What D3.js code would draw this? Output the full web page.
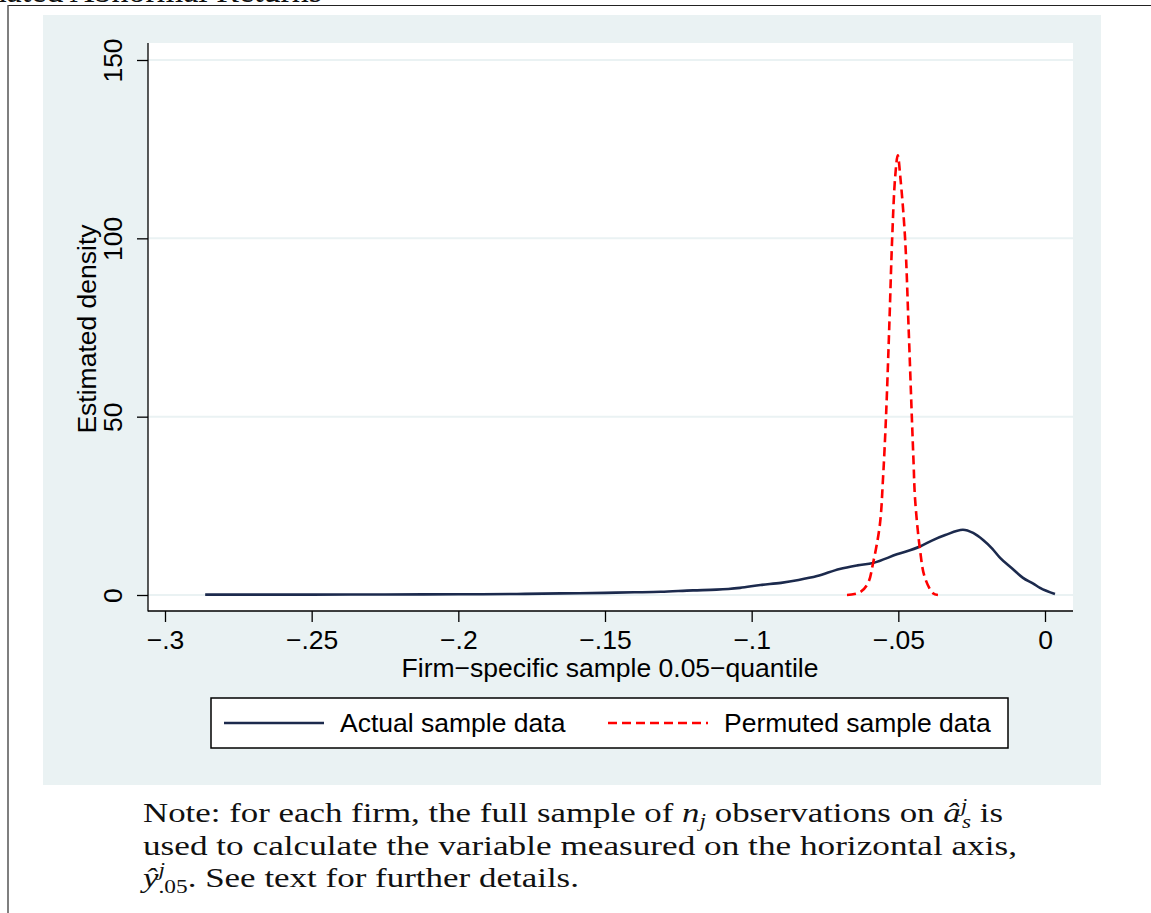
<!DOCTYPE html>
<html>
<head>
<meta charset="utf-8">
<script src="https://cdn.jsdelivr.net/npm/d3@7"></script>
<style>
  body { margin: 0; background: #fff; }
  svg { display: block; }
</style>
</head>
<body>
<div id="chart"></div>
<script>
// density estimates
var actualX = [-0.2863, -0.25, -0.225, -0.2, -0.18, -0.165, -0.15, -0.14, -0.131, -0.12, -0.112, -0.108, -0.104, -0.097,
  -0.09, -0.084, -0.0777, -0.07, -0.064, -0.0586, -0.0505, -0.0426, -0.0382, -0.034, -0.028, -0.0245,
  -0.0211, -0.018, -0.0153, -0.011, -0.0075, -0.004, -0.0017, 0.0034]
var actualY = [0.1, 0.1, 0.15, 0.2, 0.3, 0.45, 0.6, 0.75, 0.9, 1.3, 1.5, 1.7, 2.0, 2.8,
  3.4, 4.2, 5.3, 7.3, 8.3, 9.0, 11.4, 13.6, 15.4, 16.8, 18.3, 17.4,
  15.4, 13.0, 10.4, 7.3, 4.8, 3.2, 2.0, 0.3]

var permX = [-0.0675, -0.063, -0.0603, -0.0586, -0.0563, -0.0552, -0.0542, -0.0531, -0.0521, -0.0511, -0.0502,
  -0.0493, -0.0477, -0.0465, -0.0454, -0.0448, -0.0443, -0.0426, -0.041, -0.0382, -0.0365]
var permY = [0, 0.8, 3.4, 9, 19.7, 33, 50, 75, 100, 117, 123.3,
  117, 100, 75, 50, 37, 27, 12.6, 5, 0.5, 0]

var xTicks = [-0.3, -0.25, -0.2, -0.15, -0.1, -0.05, 0]
var xTickLabels = ["\u2212.3", "\u2212.25", "\u2212.2", "\u2212.15", "\u2212.1", "\u2212.05", "0"]
var yTicks = [0, 50, 100, 150]
var yTickLabels = ["0", "50", "100", "150"]
var seriesNames = ["Actual sample data", "Permuted sample data"]

var W = 1151, H = 913
var plot = {left: 148, right: 1073, top: 43, bottom: 611}
var navy = "#1c2a4d", red = "#ff0000", bgc = "#eaf2f3"
var sans = "'Liberation Sans', Arial, Helvetica, sans-serif"
var serif = "'Liberation Serif', 'Times New Roman', serif"
var fs = "26.5px"

var svg = d3.select("#chart").append("svg")
  .attr("width", W).attr("height", H)

// page frame and clipped heading from the document above
svg.append("text").attr("x", 322).attr("y", 2).attr("text-anchor", "end")
  .style("font-family", serif).style("font-size", "34px").style("fill", "#111")
  .text("Estimated Abnormal Returns")
svg.append("line").attr("x1", 8).attr("x2", W).attr("y1", 5.5).attr("y2", 5.5)
  .style("stroke", "#222").style("stroke-width", 1.2)
svg.append("line").attr("x1", 8).attr("x2", 8).attr("y1", 5).attr("y2", H)
  .style("stroke", "#555").style("stroke-width", 1.5)

// graph region
svg.append("rect").attr("x", 43).attr("y", 15).attr("width", 1058).attr("height", 770).style("fill", bgc)
svg.append("rect").attr("x", plot.left).attr("y", plot.top)
  .attr("width", plot.right - plot.left).attr("height", plot.bottom - plot.top).style("fill", "#fff")

var x = d3.scaleLinear().domain([-0.3, 0]).range([165, 1045])
var y = d3.scaleLinear().domain([0, 150]).range([595, 60])

// grid
svg.append("g").selectAll("line").data(yTicks).enter().append("line")
  .attr("x1", plot.left).attr("x2", plot.right)
  .attr("y1", function(d) { return y(d) }).attr("y2", function(d) { return y(d) })
  .style("stroke", bgc).style("stroke-width", 2)

// y axis
var yAxis = svg.append("g").attr("transform", "translate(" + plot.left + ",0)")
  .call(d3.axisLeft(y).tickValues(yTicks).tickSize(11).tickSizeOuter(0)
    .tickFormat(function(d, i) { return yTickLabels[i] }))
yAxis.select(".domain").remove()
yAxis.selectAll("line").style("stroke", "#000").style("stroke-width", 1.3)
yAxis.selectAll("text").attr("transform", "rotate(-90)").attr("x", 0).attr("y", -26).attr("dy", 0)
  .attr("text-anchor", "middle").style("font-family", sans).style("font-size", fs).style("fill", "#000")

// x axis
var xAxis = svg.append("g").attr("transform", "translate(0," + plot.bottom + ")")
  .call(d3.axisBottom(x).tickValues(xTicks).tickSize(11).tickSizeOuter(0)
    .tickFormat(function(d, i) { return xTickLabels[i] }))
xAxis.select(".domain").remove()
xAxis.selectAll("line").style("stroke", "#000").style("stroke-width", 1.3)
xAxis.selectAll("text").attr("y", 38).attr("dy", 0)
  .style("font-family", sans).style("font-size", fs).style("fill", "#000")

svg.append("line").attr("x1", plot.left).attr("x2", plot.left).attr("y1", plot.top).attr("y2", plot.bottom + 0.6)
  .style("stroke", "#000").style("stroke-width", 1.3)
svg.append("line").attr("x1", plot.left).attr("x2", plot.right).attr("y1", plot.bottom).attr("y2", plot.bottom)
  .style("stroke", "#000").style("stroke-width", 1.3)

// axis titles
svg.append("text").attr("x", 610).attr("y", 677).attr("text-anchor", "middle")
  .style("font-family", sans).style("font-size", fs)
  .text("Firm\u2212specific sample 0.05\u2212quantile")
svg.append("text").attr("transform", "translate(96,329) rotate(-90)").attr("text-anchor", "middle")
  .style("font-family", sans).style("font-size", fs)
  .text("Estimated density")

// curves
var line = d3.line().x(function(d) { return x(d[0]) }).y(function(d) { return y(d[1]) }).curve(d3.curveMonotoneX)
svg.append("path").datum(d3.zip(actualX, actualY)).attr("d", line)
  .style("fill", "none").style("stroke", navy).style("stroke-width", 2.6)
svg.append("path").datum(d3.zip(permX, permY)).attr("d", line.curve(d3.curveCatmullRom))
  .style("fill", "none").style("stroke", red).style("stroke-width", 2.6).style("stroke-dasharray", "9,5")

// legend
var leg = svg.append("g")
leg.append("rect").attr("x", 211).attr("y", 698).attr("width", 797).attr("height", 50)
  .style("fill", "#fff").style("stroke", "#000").style("stroke-width", 1.5)
var legX = [224, 608]
var legColor = [navy, red]
var legDash = [null, "9,5"]
seriesNames.forEach(function(name, i) {
  leg.append("line").attr("x1", legX[i]).attr("x2", legX[i] + 100).attr("y1", 723).attr("y2", 723)
    .style("stroke", legColor[i]).style("stroke-width", 2.6).style("stroke-dasharray", legDash[i])
  leg.append("text").attr("x", legX[i] + 116).attr("y", 732)
    .style("font-family", sans).style("font-size", fs).text(name)
})

// note below the figure
var note = svg.append("g").style("font-family", serif).style("font-size", "27px").style("fill", "#111")
var l1 = note.append("text").attr("x", 143).attr("y", 822)
  .attr("textLength", 860).attr("lengthAdjust", "spacingAndGlyphs")
l1.append("tspan").text("Note:  for each firm, the full sample of ")
l1.append("tspan").style("font-style", "italic").text("n")
l1.append("tspan").attr("dy", 5).style("font-size", "18px").style("font-style", "italic").text("j")
l1.append("tspan").attr("dy", -5).text(" observations on ")
l1.append("tspan").style("font-style", "italic").text("a\u0302")
l1.append("tspan").attr("dy", -10).style("font-size", "18px").style("font-style", "italic").text("j")
l1.append("tspan").attr("dx", -4).attr("dy", 16).style("font-size", "18px").style("font-style", "italic").text("s")
l1.append("tspan").attr("dy", -6).text(" is")

note.append("text").attr("x", 143).attr("y", 855)
  .attr("textLength", 874).attr("lengthAdjust", "spacingAndGlyphs")
  .text("used to calculate the variable measured on the horizontal axis,")

var l3 = note.append("text").attr("x", 143).attr("y", 887)
  .attr("textLength", 436).attr("lengthAdjust", "spacingAndGlyphs")
l3.append("tspan").style("font-style", "italic").text("y\u0302")
l3.append("tspan").attr("dy", -11).style("font-size", "18px").style("font-style", "italic").text("j")
l3.append("tspan").attr("dx", -5).attr("dy", 17).style("font-size", "18px").text(".05")
l3.append("tspan").attr("dy", -6).text(".  See text for further details.")
</script>
</body>
</html>
